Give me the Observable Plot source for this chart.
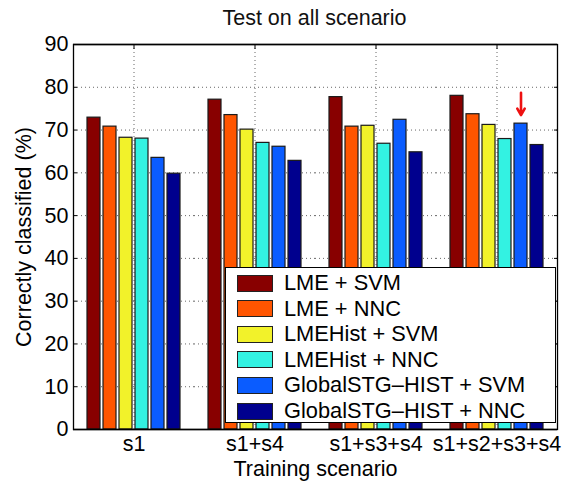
<!DOCTYPE html>
<html><head><meta charset="utf-8">
<script src="https://cdn.jsdelivr.net/npm/d3@7"></script>
<script src="https://cdn.jsdelivr.net/npm/@observablehq/plot@0.6"></script>
<style>
body{margin:0;background:#fff;font-family:"Liberation Sans",Arial,Helvetica,sans-serif;}
#wrap{position:relative;width:565px;height:483px;overflow:hidden;}
#title{position:absolute;left:72px;width:485px;top:6px;text-align:center;font-size:21.5px;line-height:24px;color:#111;}
#chart{position:absolute;left:0;top:30px;}
#legend{position:absolute;left:225px;top:267px;width:329px;height:154px;border:1px solid #000;background:#fff;color:#000;}
.row{position:absolute;left:11px;height:20px;display:flex;align-items:center;font-size:21.8px;white-space:nowrap;}
.sw{width:36px;height:17px;border:1px solid #222;margin-right:11px;box-sizing:border-box;}
</style>
</head><body>
<div id="wrap">
  <div id="title"></div>
  <div id="chart"></div>
  <div id="legend"></div>
</div>
<script>
const titleText = "Test on all scenario";
const xLabel = "Training scenario";
const yLabel = "Correctly classified (%)";
const scenarios = ["s1", "s1+s4", "s1+s3+s4", "s1+s2+s3+s4"];
const methods = ["LME + SVM", "LME + NNC", "LMEHist + SVM", "LMEHist + NNC", "GlobalSTG–HIST + SVM", "GlobalSTG–HIST + NNC"];
const colors = ["#880000", "#ff5500", "#f2f22a", "#33f2e2", "#0a5cff", "#00008e"];
const lmeSvm = [72.9, 77.1, 77.7, 78.0];
const lmeNnc = [70.8, 73.5, 70.8, 73.7];
const histSvm = [68.2, 70.1, 71.0, 71.2];
const histNnc = [68.0, 67.0, 66.8, 67.9];
const globalSvm = [63.5, 66.1, 72.4, 71.5];
const globalNnc = [59.8, 62.8, 64.8, 66.5];
const yTicks = [0, 10, 20, 30, 40, 50, 60, 70, 80, 90];
const highlight = {scenario: "s1+s2+s3+s4", method: "GlobalSTG–HIST + SVM"};

const series = [lmeSvm, lmeNnc, histSvm, histNnc, globalSvm, globalNnc];
const data = [];
scenarios.forEach((s, i) => methods.forEach((m, j) => data.push({scenario: s, method: m, value: series[j][i]})));
const hi = data.find(d => d.scenario === highlight.scenario && d.method === highlight.method);
const arrowData = [{scenario: hi.scenario, method: hi.method, top: hi.value + 7.2, tip: hi.value + 2}];

document.getElementById("title").textContent = titleText;

const chart = Plot.plot({
  width: 565,
  height: 453,
  marginLeft: 72,
  marginRight: 8,
  marginTop: 14,
  marginBottom: 54,
  style: {fontSize: "21.5px", fontFamily: "'Liberation Sans', Arial, Helvetica, sans-serif", color: "#000", background: "#fff"},
  fx: {domain: scenarios, padding: 0},
  x: {domain: methods, paddingInner: 0.2, paddingOuter: 0.75, axis: null},
  y: {domain: [0, 90]},
  color: {domain: methods, range: colors},
  marks: [
    Plot.gridY(yTicks.filter(t => t > 0 && t < 90), {stroke: "#000", strokeOpacity: 0.6, strokeDasharray: "1,3"}),
    Plot.ruleX(data.filter(d => d.method === methods[0]), {fx: "scenario", x: null, stroke: "#000", strokeOpacity: 0.6, strokeDasharray: "1,3"}),
    Plot.barY(data, {fx: "scenario", x: "method", y: "value", fill: "method", stroke: "#1a1a1a", strokeWidth: 1.2}),
    Plot.arrow(arrowData, {fx: "scenario", x: "method", y1: "top", y2: "tip", stroke: "#ee1111", strokeWidth: 2.6, headLength: 12}),
    Plot.ruleY([0, 90], {stroke: "#000", strokeWidth: 1.3}),
    Plot.axisY(yTicks, {anchor: "left", tickSize: 0, tickPadding: 5, label: yLabel, labelAnchor: "center", labelOffset: 58, labelArrow: "none"}),
    Plot.axisY(yTicks, {anchor: "left", tickSize: -4, text: null, label: null}),
    Plot.axisY(yTicks, {anchor: "right", tickSize: -4, text: null, label: null}),
    Plot.axisFx({anchor: "bottom", tickSize: 0, tickPadding: 6, label: xLabel, labelAnchor: "center", labelOffset: 46, labelArrow: "none"}),
    Plot.axisFx({anchor: "top", tickSize: -4, text: null, label: null}),
    Plot.frame({stroke: "#000", strokeWidth: 1.3, facet: "super"})
  ]
});
document.getElementById("chart").appendChild(chart);

const legend = document.getElementById("legend");
methods.forEach((m, i) => {
  const row = document.createElement("div");
  row.className = "row";
  row.style.top = (5 + i * 25.6) + "px";
  const sw = document.createElement("div");
  sw.className = "sw";
  sw.style.background = colors[i];
  const tx = document.createElement("span");
  tx.textContent = m;
  row.appendChild(sw);
  row.appendChild(tx);
  legend.appendChild(row);
});
</script>
</body></html>
